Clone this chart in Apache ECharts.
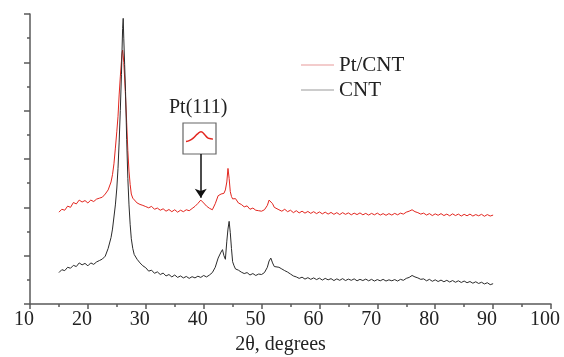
<!DOCTYPE html>
<html>
<head>
<meta charset="utf-8">
<script src="https://cdn.jsdelivr.net/npm/echarts@6/dist/echarts.min.js"></script>
<style>
  html, body { margin: 0; padding: 0; background: #fff; }
  #chart { width: 564px; height: 357px; }
</style>
</head>
<body>
<div id="chart"></div>
<script>
// Diffraction angle (2θ, degrees) shared by both patterns
const twoTheta = [
  15, 15.5, 16, 16.5, 17, 17.5, 18, 18.5, 19, 19.5, 20, 20.5, 21, 21.5, 22,
  22.5, 23, 23.5, 24, 24.25, 24.5, 24.75, 25, 25.2, 25.4, 25.6, 25.8, 25.9, 26, 26.1, 26.2, 26.35, 26.5, 26.7, 26.9, 27.1, 27.3, 27.5, 27.75, 28,
  28.5, 29, 29.5, 30, 30.5, 31, 31.5, 32, 32.5, 33, 33.5, 34, 34.5, 35, 35.5, 36, 36.5, 37, 37.5, 38, 38.5, 39, 39.5, 40, 40.5, 41, 41.5, 42, 42.5, 43,
  43.25, 43.5, 43.75, 44, 44.2, 44.4, 44.6, 44.8, 45, 45.25, 45.5,
  46, 46.5, 47, 47.5, 48, 48.5, 49, 49.5, 50, 50.5, 51,
  51.3, 51.6, 51.9, 52.2, 52.5,
  53, 53.5, 54, 54.5, 55, 55.5, 56, 56.5, 57, 57.5, 58, 58.5, 59, 59.5, 60, 60.5, 61, 61.5, 62, 62.5,
  63, 63.5, 64, 64.5, 65, 65.5, 66, 66.5, 67, 67.5, 68, 68.5, 69, 69.5, 70, 70.5, 71, 71.5, 72, 72.5,
  73, 73.5, 74, 74.5, 75, 75.5, 76, 76.5, 77, 77.5, 78, 78.5, 79, 79.5, 80, 80.5, 81, 81.5, 82, 82.5,
  83, 83.5, 84, 84.5, 85, 85.5, 86, 86.5, 87, 87.5, 88, 88.5, 89, 89.5, 90
];

// Pt/CNT intensity (offset, arbitrary units)
const ptCnt = [
  3.80, 3.92, 3.88, 4.05, 4.00, 4.20, 4.14, 4.30, 4.22, 4.28, 4.18, 4.30, 4.24, 4.34, 4.38,
  4.42, 4.55, 4.72, 5.05, 5.35, 5.80, 6.45, 7.15, 7.75, 8.65, 9.40, 10.05, 10.35, 10.51, 10.30, 10.00, 9.35, 8.60, 7.50, 6.35, 5.50, 4.95, 4.55, 4.38, 4.30,
  4.18, 4.12, 4.08, 4.03, 3.98, 4.04, 3.92, 3.97, 3.88, 3.94, 3.84, 3.91, 3.82, 3.90, 3.80, 3.88, 3.82, 3.90, 3.86, 3.95, 4.04, 4.16, 4.30, 4.18, 4.05, 3.96, 3.90, 4.15, 4.48, 4.55,
  4.62, 4.58, 4.72, 5.05, 5.61, 5.20, 4.65, 4.45, 4.35, 4.30, 4.36,
  4.18, 4.12, 4.02, 4.06, 3.92, 3.97, 3.88, 3.86, 3.84, 3.90, 4.08,
  4.30, 4.37, 4.15, 4.00, 3.95,
  3.90, 3.84, 3.92, 3.82, 3.88, 3.78, 3.86, 3.77, 3.84, 3.76, 3.83, 3.75, 3.82, 3.74, 3.81, 3.73, 3.80, 3.72, 3.79, 3.71,
  3.78, 3.70, 3.78, 3.71, 3.77, 3.69, 3.76, 3.70, 3.77, 3.69, 3.75, 3.68, 3.75, 3.69, 3.76, 3.68, 3.74, 3.67, 3.74, 3.68,
  3.75, 3.69, 3.76, 3.72, 3.80, 3.84, 3.90, 3.82, 3.78, 3.72, 3.76, 3.68, 3.74, 3.66, 3.73, 3.67, 3.74, 3.66, 3.72, 3.65,
  3.73, 3.66, 3.72, 3.64, 3.71, 3.65, 3.72, 3.64, 3.70, 3.65, 3.71, 3.63, 3.70, 3.64, 3.68
];

// CNT intensity (offset, arbitrary units)
const cnt = [
  1.30, 1.42, 1.38, 1.52, 1.48, 1.60, 1.55, 1.70, 1.62, 1.68, 1.58, 1.70, 1.64, 1.74, 1.80,
  1.86, 1.98, 2.30, 2.75, 3.10, 3.60, 4.10, 4.80, 5.60, 6.70, 8.00, 9.50, 10.50, 11.40, 11.82, 11.00, 9.90, 8.80, 6.80, 5.20, 4.10, 3.30, 2.70, 2.30, 2.05,
  1.85, 1.70, 1.58, 1.50, 1.36, 1.40, 1.27, 1.33, 1.22, 1.28, 1.16, 1.22, 1.12, 1.20, 1.10, 1.16, 1.08, 1.14, 1.06, 1.13, 1.08, 1.15, 1.10, 1.18, 1.12, 1.20, 1.30, 1.52, 1.90, 2.15,
  2.25, 2.00, 1.85, 2.60, 3.10, 3.42, 2.95, 2.30, 1.75, 1.58, 1.45,
  1.40, 1.32, 1.26, 1.30, 1.20, 1.26, 1.18, 1.24, 1.22, 1.30, 1.52,
  1.78, 1.90, 1.70, 1.55, 1.50,
  1.52, 1.45, 1.38, 1.32, 1.24, 1.16, 1.12, 1.06, 1.11, 1.03, 1.09, 1.02, 1.08, 1.01, 1.07, 0.99, 1.06, 1.00, 1.05, 0.97,
  1.04, 0.98, 1.05, 0.97, 1.03, 0.98, 1.04, 0.96, 1.02, 0.97, 1.03, 0.96, 1.02, 0.95, 1.01, 0.96, 1.02, 0.95, 1.00, 0.96,
  1.01, 0.95, 1.02, 0.98, 1.06, 1.10, 1.18, 1.12, 1.08, 1.02, 1.04, 0.96, 1.02, 0.94, 1.00, 0.93, 0.99, 0.92, 0.98, 0.91,
  0.97, 0.90, 0.96, 0.89, 0.95, 0.88, 0.93, 0.86, 0.92, 0.85, 0.90, 0.83, 0.88, 0.80, 0.84
];

// Close-up of the Pt(111) reflection shown in the small framed inset
const insetAngle = [37.5, 38, 38.5, 39, 39.5, 40, 40.4, 40.8, 41.1];
const insetProfile = [4.00, 4.04, 4.12, 4.24, 4.32, 4.22, 4.12, 4.09, 4.08];

const pt111Angle = 39.5;
const seriesNames = ['Pt/CNT', 'CNT'];

const SERIF = '"Liberation Serif", "Times New Roman", serif';
const AXIS_GREY = '#5a5a5a';

const zip = (xs, ys) => xs.map((x, i) => [x, ys[i]]);
const pt111Peak = ptCnt[twoTheta.indexOf(pt111Angle)];

const chart = echarts.init(document.getElementById('chart'), null, { renderer: 'canvas' });

chart.setOption({
  animation: false,
  backgroundColor: '#ffffff',
  title: {
    text: 'Pt(111)',
    left: 169,
    top: 98,
    padding: 0,
    textStyle: { fontFamily: SERIF, fontSize: 20, fontWeight: 'normal', color: '#222' }
  },
  legend: {
    orient: 'vertical',
    left: 301,
    top: 54,
    padding: 0,
    itemWidth: 33,
    itemHeight: 1,
    itemGap: 3,
    icon: 'rect',
    selectedMode: false,
    textStyle: { fontFamily: SERIF, fontSize: 21, color: '#222', lineHeight: 22 },
    data: [
      { name: seriesNames[0], itemStyle: { color: '#e89a9a' } },
      { name: seriesNames[1], itemStyle: { color: '#9a9a9a' } }
    ]
  },
  grid: [
    { left: 30, right: 13, top: 14, bottom: 53, containLabel: false, outerBoundsMode: 'none' },
    { left: 183, top: 123, width: 33, height: 31, show: true, borderColor: '#666', borderWidth: 1.2,
      backgroundColor: '#fff', containLabel: false, outerBoundsMode: 'none' }
  ],
  xAxis: [
    {
      type: 'value', gridIndex: 0, min: 10, max: 100, interval: 10,
      axisLine: { show: true, onZero: false, lineStyle: { color: AXIS_GREY, width: 1.5 } },
      axisTick: { show: true, inside: false, length: 5, lineStyle: { color: AXIS_GREY, width: 1.5 } },
      minorTick: { show: true, splitNumber: 2, length: 3, lineStyle: { color: AXIS_GREY, width: 1.5 } },
      splitLine: { show: false },
      axisLabel: { show: true, fontFamily: SERIF, fontSize: 20, color: '#222', margin: 6, padding: [0, 12, 0, 0] },
      name: '2θ, degrees',
      nameLocation: 'middle',
      nameGap: 30,
      nameTextStyle: { fontFamily: SERIF, fontSize: 20, color: '#222', padding: [0, 20, 0, 0] }
    },
    { type: 'value', gridIndex: 1, min: 37.1, max: 41.5, show: false }
  ],
  yAxis: [
    {
      type: 'value', gridIndex: 0, min: 0, max: 12, interval: 2,
      axisLine: { show: true, onZero: false, lineStyle: { color: AXIS_GREY, width: 1.5 } },
      axisTick: { show: true, inside: false, length: 6, lineStyle: { color: AXIS_GREY, width: 1.5 } },
      minorTick: { show: true, splitNumber: 2, length: 3, lineStyle: { color: AXIS_GREY, width: 1.5 } },
      splitLine: { show: false },
      axisLabel: { show: false }
    },
    { type: 'value', gridIndex: 1, min: 3.6, max: 4.6, show: false }
  ],
  series: [
    {
      name: seriesNames[0],
      type: 'line',
      data: zip(twoTheta, ptCnt),
      showSymbol: false,
      symbol: 'none',
      lineStyle: { color: '#e3261f', width: 1 },
      itemStyle: { color: '#e3261f' },
      markLine: {
        silent: true,
        symbol: ['none', 'arrow'],
        symbolSize: 9,
        lineStyle: { color: '#111', width: 1.5, type: 'solid' },
        label: { show: false },
        emphasis: { disabled: true },
        data: [[
          { coord: [pt111Angle, 6.21] },
          { coord: [pt111Angle, pt111Peak + 0.1] }
        ]]
      }
    },
    {
      name: seriesNames[1],
      type: 'line',
      data: zip(twoTheta, cnt),
      showSymbol: false,
      symbol: 'none',
      lineStyle: { color: '#2b2b2b', width: 1 },
      itemStyle: { color: '#2b2b2b' }
    },
    {
      name: 'inset',
      type: 'line',
      xAxisIndex: 1,
      yAxisIndex: 1,
      data: zip(insetAngle, insetProfile),
      smooth: true,
      showSymbol: false,
      symbol: 'none',
      lineStyle: { color: '#e3261f', width: 1.5 },
      itemStyle: { color: '#e3261f' }
    }
  ]
});
</script>
</body>
</html>
